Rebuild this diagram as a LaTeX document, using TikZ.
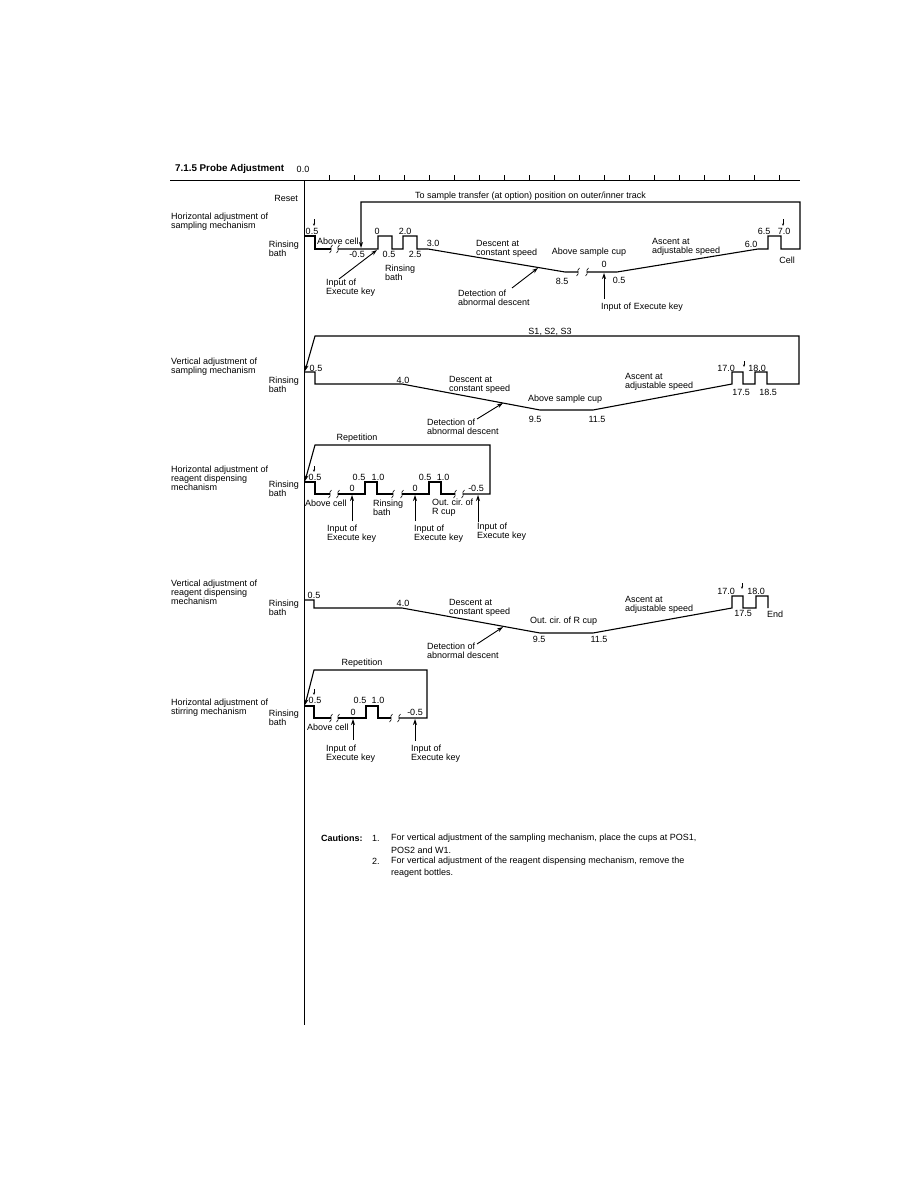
\documentclass[tikz,border=0pt]{standalone}
\usepackage{fontspec}
\setmainfont{Liberation Sans}
\usetikzlibrary{arrows.meta}
\frenchspacing

% break mark on a time line
\newcommand{\wbreak}[2]{\draw[line width=0.6pt] (#1-1.5,#2+4) .. controls (#1+2.5,#2+1) and (#1-2.5,#2-1) .. (#1+1.5,#2-4);}

\begin{document}
\begin{tikzpicture}[x=1pt, y=-1pt,
    lbl/.style={font=\fontsize{9}{9}\selectfont, inner sep=0pt, align=left},
    num/.style={font=\fontsize{9}{9}\selectfont, inner sep=0pt},
    wave/.style={line width=1.1pt},
    ptr/.style={line width=0.9pt, -{Stealth[length=6pt,width=4pt]}},
    mk/.style={line width=0.5pt, -{Stealth[length=2.5pt,width=2pt]}}]
    \useasboundingbox (0,0) rectangle (918,1188);

    % time axis
    \node[anchor=west, inner sep=0pt, font=\bfseries\fontsize{9.8}{10}\selectfont] (title) at (175,169) {7.1.5 Probe Adjustment};
    \node[num] (zero) at (303,169) {0.0};
    \draw[line width=0.9pt] (170,180) -- (800,180);
    \foreach \t in {329,354,...,779} \draw[line width=0.7pt] (\t,180) -- (\t,175);
    \draw[line width=0.9pt] (304,180) -- (304,1025);

    % horizontal adjustment of sampling mechanism
    \node[lbl, anchor=east] (reset) at (298,198) {Reset};
    \node[lbl, anchor=west] (hs) at (171,221.5) {Horizontal adjustment of\\sampling mechanism};
    \node[lbl, anchor=east] (hs-rb) at (299,248.5) {Rinsing\\bath};
    \draw[wave] (304,236) -- (315,236) -- (315,249) -- (331,249);
    \wbreak{331}{249} \wbreak{338}{249}
    \draw[wave] (338,249) -- (378,249) -- (378,236) -- (392,236) -- (392,249) -- (403,249) -- (403,236) -- (417,236) -- (417,249) -- (428,249) -- (565,272) -- (578,272);
    \wbreak{578}{272} \wbreak{587}{272}
    \draw[wave, -{Stealth[length=6pt,width=4pt]}] (587,272) -- (617,272) -- (758,249) -- (768,249) -- (768,236) -- (781,236) -- (781,249) -- (800,249) -- (800,202) -- (361,202) -- (361,248);
    \node[lbl, anchor=west] (hs-tr) at (415,196) {To sample transfer (at option) position on outer/inner track};
    \draw[mk] (314,219) -- (314,226);
    \node[num] (hs-a) at (312,231) {0.5};
    \node[lbl, anchor=west] (hs-above) at (317,241) {Above cell};
    \node[num] (hs-b) at (357,254) {-0.5};
    \node[num] (hs-c) at (377,231) {0};
    \node[num] (hs-d) at (405,231) {2.0};
    \node[num] (hs-e) at (389,254) {0.5};
    \node[num] (hs-f) at (415,254) {2.5};
    \node[num] (hs-g) at (433,243) {3.0};
    \node[lbl, anchor=west] (hs-rb2) at (385,272.5) {Rinsing\\bath};
    \node[lbl, anchor=west] (hs-in1) at (326,287.5) {Input of\\Execute key};
    \coordinate (hs-t1) at (339,279);
    \coordinate (hs-k1) at (377,250);
    \draw[ptr] (hs-t1) -- (hs-k1);
    \node[lbl, anchor=west] (hs-desc) at (476,248.5) {Descent at\\constant speed};
    \node[lbl] (hs-cup) at (589,252) {Above sample cup};
    \node[lbl, anchor=west] (hs-det) at (458,297.5) {Detection of\\abnormal descent};
    \coordinate (hs-t2) at (512,288);
    \coordinate (hs-k2) at (538,268);
    \draw[ptr] (hs-t2) -- (hs-k2);
    \node[num] (hs-h) at (562,281) {8.5};
    \node[num] (hs-i) at (604,264) {0};
    \node[num] (hs-j) at (619,280) {0.5};
    \coordinate (hs-t3) at (604,299);
    \coordinate (hs-k3) at (604,273);
    \draw[ptr] (hs-t3) -- (hs-k3);
    \node[lbl] (hs-in2) at (642,307) {Input of Execute key};
    \node[lbl, anchor=west] (hs-asc) at (652,246.5) {Ascent at\\adjustable speed};
    \node[num] (hs-k) at (751,244) {6.0};
    \node[num] (hs-l) at (764,231) {6.5};
    \draw[mk] (783,219) -- (783,226);
    \node[num] (hs-m) at (784,231) {7.0};
    \node[lbl] (hs-cell) at (787,260) {Cell};

    % vertical adjustment of sampling mechanism
    \node[lbl, anchor=west] (vs) at (171,366.5) {Vertical adjustment of\\sampling mechanism};
    \node[lbl, anchor=east] (vs-rb) at (299,384.5) {Rinsing\\bath};
    \draw[wave, -{Stealth[length=6pt,width=4pt]}] (304,372) -- (315,372) -- (315,384) -- (402,384) -- (540,410) -- (593,410) -- (732,384) -- (732,372) -- (743,372) -- (743,384) -- (755,384) -- (755,372) -- (767,372) -- (767,384) -- (799,384) -- (799,336) -- (315,336) -- (305,371);
    \node[num] (vs-a) at (316,368) {0.5};
    \node[num] (vs-b) at (403,380) {4.0};
    \node[lbl, anchor=west] (vs-desc) at (449,384.5) {Descent at\\constant speed};
    \node[lbl, anchor=west] (vs-det) at (427,426.5) {Detection of\\abnormal descent};
    \coordinate (vs-t1) at (477,419);
    \coordinate (vs-k1) at (503,403);
    \draw[ptr] (vs-t1) -- (vs-k1);
    \node[lbl] (vs-s) at (550,332) {S1, S2, S3};
    \node[lbl, anchor=west] (vs-cup) at (528,399) {Above sample cup};
    \node[num] (vs-c) at (535,419) {9.5};
    \node[num] (vs-d) at (597,419) {11.5};
    \node[lbl, anchor=west] (vs-asc) at (625,382) {Ascent at\\adjustable speed};
    \node[num] (vs-e) at (726,368) {17.0};
    \draw[mk] (744,361) -- (744,367);
    \node[num] (vs-f) at (757,368) {18.0};
    \node[num] (vs-g) at (741,392) {17.5};
    \node[num] (vs-h) at (768,392) {18.5};

    % horizontal adjustment of reagent dispensing mechanism
    \node[lbl, anchor=west] (hr) at (171,478.5) {Horizontal adjustment of\\reagent dispensing\\mechanism};
    \node[lbl, anchor=east] (hr-rb) at (299,489) {Rinsing\\bath};
    \node[lbl] (hr-rep) at (357,438) {Repetition};
    \draw[wave] (304,482) -- (315,482) -- (315,494) -- (330,494);
    \wbreak{330}{494} \wbreak{338}{494}
    \draw[wave] (338,494) -- (365,494) -- (365,482) -- (377,482) -- (377,494) -- (393,494);
    \wbreak{393}{494} \wbreak{402}{494}
    \draw[wave] (402,494) -- (429,494) -- (429,482) -- (441,482) -- (441,494) -- (455,494);
    \wbreak{455}{494} \wbreak{463}{494}
    \draw[wave, -{Stealth[length=6pt,width=4pt]}] (463,494) -- (490,494) -- (490,445) -- (315,445) -- (305,481);
    \draw[mk] (314,466) -- (314,472);
    \node[num] (hr-a) at (315,477) {0.5};
    \node[num] (hr-b) at (352,488) {0};
    \node[num] (hr-c) at (359,477) {0.5};
    \node[num] (hr-d) at (378,477) {1.0};
    \node[lbl, anchor=west] (hr-above) at (305,503) {Above cell};
    \node[lbl, anchor=west] (hr-rb2) at (373,507.5) {Rinsing\\bath};
    \node[lbl, anchor=west] (hr-in1) at (327,533.5) {Input of\\Execute key};
    \coordinate (hr-t1) at (352,521);
    \coordinate (hr-k1) at (352,495);
    \draw[ptr] (hr-t1) -- (hr-k1);
    \node[num] (hr-e) at (415,488) {0};
    \node[num] (hr-f) at (425,477) {0.5};
    \node[num] (hr-g) at (443,477) {1.0};
    \node[lbl, anchor=west] (hr-in2) at (414,533.5) {Input of\\Execute key};
    \coordinate (hr-t2) at (415,521);
    \coordinate (hr-k2) at (415,495);
    \draw[ptr] (hr-t2) -- (hr-k2);
    \node[lbl, anchor=west] (hr-out) at (432,507.5) {Out. cir. of\\R cup};
    \node[num] (hr-h) at (476,488) {-0.5};
    \node[lbl, anchor=west] (hr-in3) at (477,532) {Input of\\Execute key};
    \coordinate (hr-t3) at (478,522);
    \coordinate (hr-k3) at (478,495);
    \draw[ptr] (hr-t3) -- (hr-k3);

    % vertical adjustment of reagent dispensing mechanism
    \node[lbl, anchor=west] (vr) at (171,592) {Vertical adjustment of\\reagent dispensing\\mechanism};
    \node[lbl, anchor=east] (vr-rb) at (299,608) {Rinsing\\bath};
    \draw[wave] (304,600) -- (314,600) -- (314,608) -- (402,608) -- (540,633) -- (593,633) -- (732,608) -- (732,596) -- (743,596) -- (743,608) -- (756,608) -- (756,596) -- (768,596) -- (768,608);
    \node[num] (vr-a) at (314,595) {0.5};
    \node[num] (vr-b) at (403,603) {4.0};
    \node[lbl, anchor=west] (vr-desc) at (449,607.5) {Descent at\\constant speed};
    \node[lbl, anchor=west] (vr-det) at (427,651) {Detection of\\abnormal descent};
    \coordinate (vr-t1) at (477,644);
    \coordinate (vr-k1) at (503,627);
    \draw[ptr] (vr-t1) -- (vr-k1);
    \node[lbl, anchor=west] (vr-out) at (530,621) {Out. cir. of R cup};
    \node[num] (vr-c) at (539,639) {9.5};
    \node[num] (vr-d) at (599,639) {11.5};
    \node[lbl, anchor=west] (vr-asc) at (625,604.5) {Ascent at\\adjustable speed};
    \node[num] (vr-e) at (726,591) {17.0};
    \draw[mk] (742,583) -- (742,589);
    \node[num] (vr-f) at (756,591) {18.0};
    \node[num] (vr-g) at (743,613) {17.5};
    \node[lbl, anchor=west] (vr-end) at (767,614) {End};

    % horizontal adjustment of stirring mechanism
    \node[lbl, anchor=west] (st) at (171,707.5) {Horizontal adjustment of\\stirring mechanism};
    \node[lbl, anchor=east] (st-rb) at (299,717.5) {Rinsing\\bath};
    \node[lbl] (st-rep) at (362,663) {Repetition};
    \draw[wave] (304,706) -- (314,706) -- (314,718) -- (331,718);
    \wbreak{331}{718} \wbreak{338}{718}
    \draw[wave] (338,718) -- (366,718) -- (366,706) -- (378,706) -- (378,718) -- (391,718);
    \wbreak{391}{718} \wbreak{399}{718}
    \draw[wave, -{Stealth[length=6pt,width=4pt]}] (399,718) -- (427,718) -- (427,670) -- (314,670) -- (305,705);
    \draw[mk] (314,689) -- (314,695);
    \node[num] (st-a) at (315,700) {0.5};
    \node[num] (st-b) at (353,712) {0};
    \node[num] (st-c) at (360,700) {0.5};
    \node[num] (st-d) at (378,700) {1.0};
    \node[num] (st-e) at (415,712) {-0.5};
    \node[lbl, anchor=west] (st-above) at (307,727) {Above cell};
    \node[lbl, anchor=west] (st-in1) at (326,753.5) {Input of\\Execute key};
    \coordinate (st-t1) at (353,740);
    \coordinate (st-k1) at (353,719);
    \draw[ptr] (st-t1) -- (st-k1);
    \node[lbl, anchor=west] (st-in2) at (411,753.5) {Input of\\Execute key};
    \coordinate (st-t2) at (415,741);
    \coordinate (st-k2) at (415,719);
    \draw[ptr] (st-t2) -- (st-k2);

    % cautions
    \node[lbl, anchor=west, font=\bfseries\fontsize{9}{9}\selectfont] (caut) at (321,838) {Cautions:};
    \node[lbl, anchor=west] (c1) at (372,838) {1.};
    \node[lbl, anchor=west] (c1t) at (391,838) {For vertical adjustment of the sampling mechanism, place the cups at POS1,};
    \node[lbl, anchor=west] (c1u) at (391,850) {POS2 and W1.};
    \node[lbl, anchor=west] (c2) at (372,861) {2.};
    \node[lbl, anchor=west] (c2t) at (391,861) {For vertical adjustment of the reagent dispensing mechanism, remove the};
    \node[lbl, anchor=west] (c2u) at (391,873) {reagent bottles.};
\end{tikzpicture}
\end{document}
